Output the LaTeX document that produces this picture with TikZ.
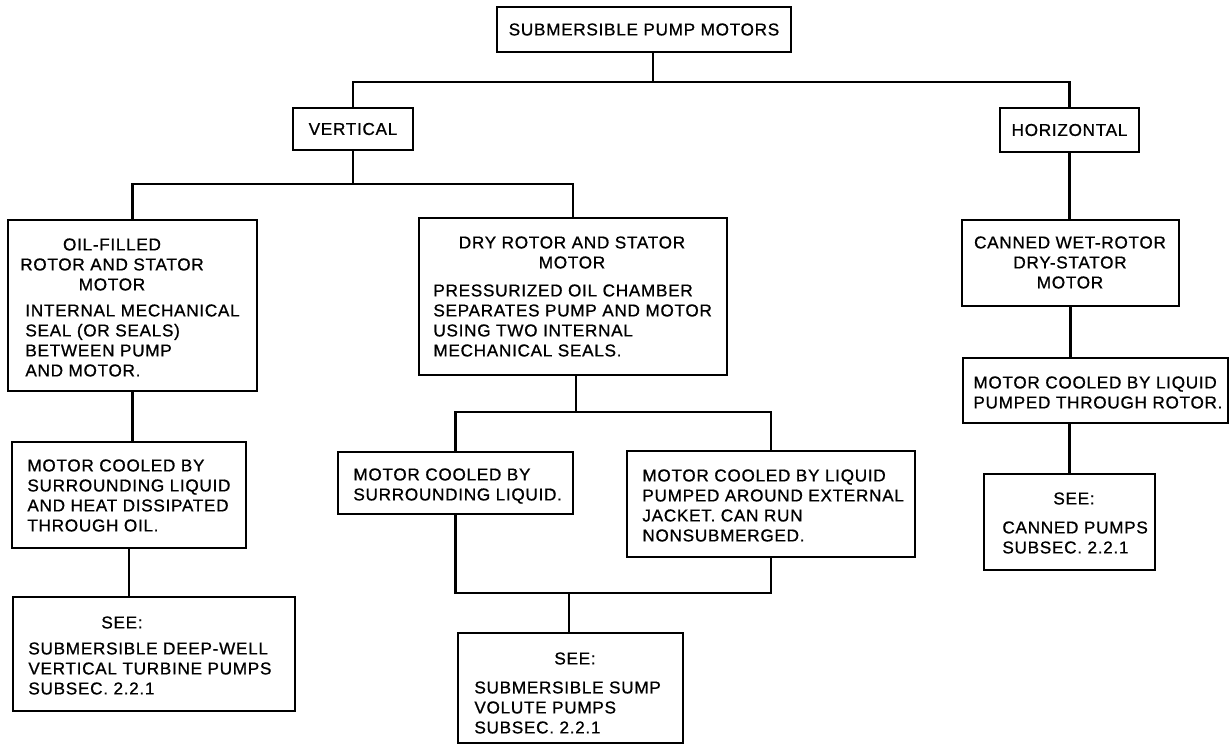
\documentclass[tikz,border=0pt]{standalone}
\usepackage{fontspec}
\usepackage{tikz}
\newfontfamily\lettering[LetterSpace=4.0,FakeBold=0.8]{Liberation Sans}
\tikzset{
  box/.style={draw,line width=1pt,inner sep=0pt,font=\lettering\fontsize{8.6}{10}\selectfont},
  boxhead/.style={inner sep=0pt,align=center,font=\lettering\fontsize{8.6}{10}\selectfont},
  boxbody/.style={inner sep=0pt,align=left,font=\lettering\fontsize{8.6}{10}\selectfont},
  link/.style={line width=1.4pt}
}

\begin{document}
\begin{tikzpicture}[x=0.5pt,y=-0.5pt]
\path[use as bounding box] (0,0) rectangle (1230,746);
\node[box,minimum width=147pt,minimum height=22.5pt] (pumpmotors) at (644,29.5) {SUBMERSIBLE PUMP MOTORS};
\node[box,minimum width=60pt,minimum height=21pt] (vertical) at (353,129) {VERTICAL};
\node[box,minimum width=69.5pt,minimum height=22pt] (horizontal) at (1069.5,130) {HORIZONTAL};
\node[box,minimum width=124.5pt,minimum height=85.5pt] (oilfilled) at (132.5,305.5) {};
\node[box,minimum width=154pt,minimum height=78.5pt] (dryrotor) at (573,296.5) {};
\node[box,minimum width=108.5pt,minimum height=43pt] (canned) at (1070.5,263) {};
\node[box,minimum width=117pt,minimum height=53pt] (oilcool) at (129,495) {};
\node[box,minimum width=141pt,minimum height=57pt] (seewell) at (154,654) {};
\node[box,minimum width=117.5pt,minimum height=31pt] (liqcool) at (455.5,483) {};
\node[box,minimum width=144pt,minimum height=53pt] (jacketcool) at (771,504) {};
\node[box,minimum width=112.5pt,minimum height=55pt] (seesump) at (570.5,688) {};
\node[box,minimum width=132.5pt,minimum height=32.5pt] (rotorcool) at (1095.5,390.5) {};
\node[box,minimum width=85.5pt,minimum height=48pt] (seecanned) at (1069.5,522) {};

\node[boxhead,anchor=north] (oilhead) at (112,238) {OIL-FILLED\\ROTOR AND STATOR\\MOTOR};
\node[boxbody,anchor=north west] (oilbody) at (25,304) {INTERNAL MECHANICAL\\SEAL (OR SEALS)\\BETWEEN PUMP\\AND MOTOR.};
\node[boxhead,anchor=north] (dryhead) at (572,236) {DRY ROTOR AND STATOR\\MOTOR};
\node[boxbody,anchor=north west] (drybody) at (433,284) {PRESSURIZED OIL CHAMBER\\SEPARATES PUMP AND MOTOR\\USING TWO INTERNAL\\MECHANICAL SEALS.};
\node[boxhead,anchor=north] (cannedhead) at (1070,236) {CANNED WET-ROTOR\\DRY-STATOR\\MOTOR};
\node[boxbody,anchor=north west] (oilcooltext) at (27,459) {MOTOR COOLED BY\\SURROUNDING LIQUID\\AND HEAT DISSIPATED\\THROUGH OIL.};
\node[boxhead,anchor=north] (seewellhead) at (122,616) {SEE:};
\node[boxbody,anchor=north west] (seewelltext) at (28,642) {SUBMERSIBLE DEEP-WELL\\VERTICAL TURBINE PUMPS\\SUBSEC. 2.2.1};
\node[boxbody,anchor=north west] (liqcooltext) at (353,468) {MOTOR COOLED BY\\SURROUNDING LIQUID.};
\node[boxbody,anchor=north west] (jackettext) at (642,469) {MOTOR COOLED BY LIQUID\\PUMPED AROUND EXTERNAL\\JACKET. CAN RUN\\NONSUBMERGED.};
\node[boxhead,anchor=north] (seesumphead) at (575,652) {SEE:};
\node[boxbody,anchor=north west] (seesumptext) at (474,681) {SUBMERSIBLE SUMP\\VOLUTE PUMPS\\SUBSEC. 2.2.1};
\node[boxbody,anchor=north west] (rotorcooltext) at (973,376) {MOTOR COOLED BY LIQUID\\PUMPED THROUGH ROTOR.};
\node[boxhead,anchor=north] (seecannedhead) at (1074,492) {SEE:};
\node[boxbody,anchor=north west] (seecannedtext) at (1002,521) {CANNED PUMPS\\SUBSEC. 2.2.1};

\coordinate (topjoin) at (653,82);
\coordinate (vertjoin) at (353,184);
\coordinate (dryjoin) at (576,412);
\coordinate (sumpjoin) at (569,593);

\draw[link] (pumpmotors.south -| topjoin) -- (topjoin);
\draw[link] (vertical.north) |- (topjoin) -| (horizontal.north);
\draw[link] (vertical.south) -- (vertjoin);
\draw[link] (oilfilled.north) |- (vertjoin) -| (dryrotor.north);
\draw[link] (oilfilled.south) -- (oilfilled.south |- oilcool.north);
\draw[link] (oilcool.south) -- (oilcool.south |- seewell.north);
\draw[link] (dryrotor.south -| dryjoin) -- (dryjoin);
\draw[link] (liqcool.north) |- (dryjoin) -| (jacketcool.north);
\draw[link] (liqcool.south) |- (sumpjoin) -| (jacketcool.south);
\draw[link] (sumpjoin) -- (sumpjoin |- seesump.north);
\draw[link] (horizontal.south) -- (horizontal.south |- canned.north);
\draw[link] (canned.south) -- (canned.south |- rotorcool.north);
\draw[link] (seecanned.north) -- (seecanned.north |- rotorcool.south);
\end{tikzpicture}
\end{document}
